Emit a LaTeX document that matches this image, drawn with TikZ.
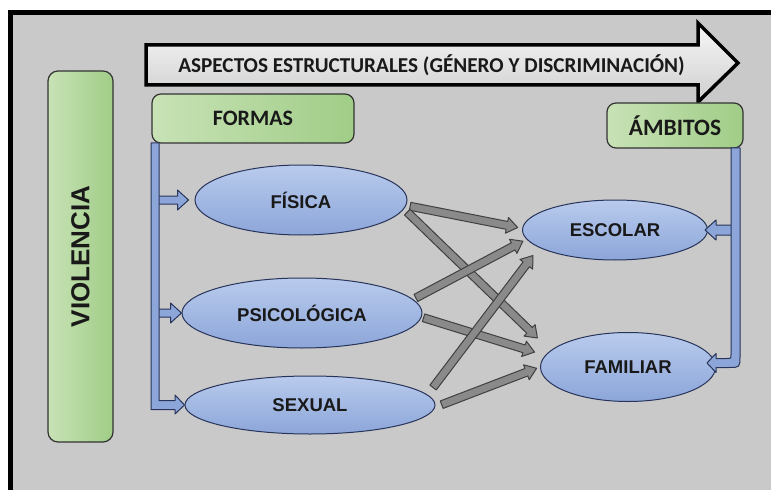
\documentclass[tikz,border=0pt]{standalone}
\usepackage{fontspec}
\newfontfamily\calibrifont{Carlito}
\newfontfamily\arialfont{Liberation Sans}
\usetikzlibrary{calc,shapes.geometric}

\definecolor{bggray}{RGB}{201,201,201}
\definecolor{greenlight}{RGB}{200,226,182}
\definecolor{greendark}{RGB}{160,205,135}
\definecolor{bluelight}{RGB}{185,203,237}
\definecolor{bluedark}{RGB}{140,166,217}
\definecolor{blueline}{RGB}{40,52,90}
\definecolor{arrowgray}{RGB}{138,138,138}

%% block arrow: style, tail, tip, half body width, half head width
\newcommand{\blockarrow}[5]{%
  \coordinate (bah) at ($(#3)!11pt!(#2)$);
  \filldraw[#1] ($(#2)!#4!90:(#3)$) -- ($(bah)!#4!-90:(#2)$) -- ($(bah)!#5!-90:(#2)$)
    -- (#3) -- ($(bah)!#5!90:(#2)$) -- ($(bah)!#4!90:(#2)$) -- ($(#2)!#4!-90:(#3)$) -- cycle;
}

\tikzset{
  greenbox/.style={draw=black!80, line width=1.2pt, rounded corners=9pt,
    left color=greenlight, right color=greendark, inner sep=0pt,
    font=\calibrifont\bfseries\fontsize{22}{24}\selectfont, text=black!90},
  oval/.style={ellipse, draw=blueline, line width=1pt, top color=bluelight,
    bottom color=bluedark, inner sep=0pt,
    font=\arialfont\bfseries\fontsize{18.5}{20}\selectfont, text=black!90},
  bluebar/.style={draw=blueline, line width=1pt, fill=bluedark, line join=round},
  grayarrow/.style={draw=black!75, line width=1pt, fill=arrowgray, line join=round},
  bigarrow/.style={draw=black, line width=3.5pt, top color=gray!6, bottom color=gray!38,
    line join=miter},
}

\begin{document}
\begin{tikzpicture}[x=1pt,y=-1pt]
  \useasboundingbox (0,0) rectangle (771,492);
  %% frame
  \fill[white] (0,0) rectangle (771,492);
  \fill[bggray] (8,10) rectangle (771,490);
  \draw[line width=4.5pt] (10.5,490) -- (10.5,12.5) -- (771,12.5);

  %% structural arrow
  \filldraw[bigarrow] (146,45) -- (698,45) -- (698,23) -- (738,63) -- (698,102) -- (698,85) -- (146,85) -- cycle;
  \node[font=\calibrifont\bfseries\fontsize{21.2}{23}\selectfont, text=black!90] (ASPECTOS) at (431.5,65)
    {ASPECTOS ESTRUCTURALES (GÉNERO Y DISCRIMINACIÓN)};

  %% green boxes
  \node[greenbox, minimum width=65pt, minimum height=371pt, rounded corners=10pt,
    font=\arialfont\bfseries\fontsize{26}{28}\selectfont] (VIOL) at (80.5,256.5) {\rotatebox{90}{VIOLENCIA}};
  \node[greenbox, minimum width=202pt, minimum height=49pt] (FORMAS) at (253,118.5) {FORMAS};
  \node[greenbox, minimum width=136pt, minimum height=45pt, font=\calibrifont\bfseries\fontsize{23.5}{25}\selectfont]
    (AMBITOS) at (675,125.5) {ÁMBITOS};

  %% forms and settings
  \node[oval, minimum width=212pt, minimum height=70pt] (FIS) at (301,200) {FÍSICA};
  \node[oval, minimum width=240pt, minimum height=70pt] (PSI) at (302,313) {PSICOLÓGICA};
  \node[oval, minimum width=250pt, minimum height=58pt] (SEX) at (310,405) {SEXUAL};
  \node[oval, minimum width=185pt, minimum height=60pt] (ESC) at (615,230) {ESCOLAR};
  \node[oval, minimum width=175pt, minimum height=69pt] (FAM) at (628,367) {FAMILIAR};

  %% left bracket
  \coordinate (LBAR) at (155,143);
  \foreach \n/\g in {FIS/6,PSI/0}
  {
    \coordinate (lt\n) at (LBAR |- \n.west);
    \coordinate (lh\n) at ($(\n.west)+(-\g,0)$);
    \blockarrow{bluebar}{lt\n}{lh\n}{4pt}{10pt}
  }
  \filldraw[bluebar] (151,143) -- (159,143) -- (159,400.5) -- (175,400.5) -- (175,395)
    -- (SEX.west) -- (175,414) -- (175,409.5) -- (151,409.5) -- cycle;

  %% right bracket
  \coordinate (RBAR) at (736,148);
  \coordinate (rtESC) at (RBAR |- ESC.east);
  \coordinate (rhESC) at ($(ESC.east)+(-3,0)$);
  \blockarrow{bluebar}{rtESC}{rhESC}{5pt}{10pt}
  \coordinate (rhFAM) at ($(FAM.east)+(-9,-4)$);
  \filldraw[bluebar] (731,148) -- (740,148) -- (740,356) .. controls (740,367.5) .. (728.5,367.5)
    -- (716,367.5) -- (716,372.5) -- (rhFAM) -- (716,353.5) -- (716,358.5) -- (727,358.5)
    .. controls (731,358.5) .. (731,354.5) -- cycle;

  %% gray arrows between forms and settings
  \foreach \s/\sa/\t/\ta/\gs/\gt in {FIS/-3/ESC/179/4pt/4.5pt, FIS/-5/FAM/168/4.5pt/18pt,
      PSI/7/ESC/186/3pt/4pt, PSI/-2/FAM/172/2pt/11pt,
      SEX/5/ESC/193/9pt/10pt, SEX/-1/FAM/180/7pt/3.6pt}
  {
    \coordinate (gt\s\t) at ($(\s.\sa)!\gs!(\t.\ta)$);
    \coordinate (gh\s\t) at ($(\t.\ta)!\gt!(\s.\sa)$);
    \blockarrow{grayarrow}{gt\s\t}{gh\s\t}{4pt}{8pt}
  }
\end{tikzpicture}
\end{document}
